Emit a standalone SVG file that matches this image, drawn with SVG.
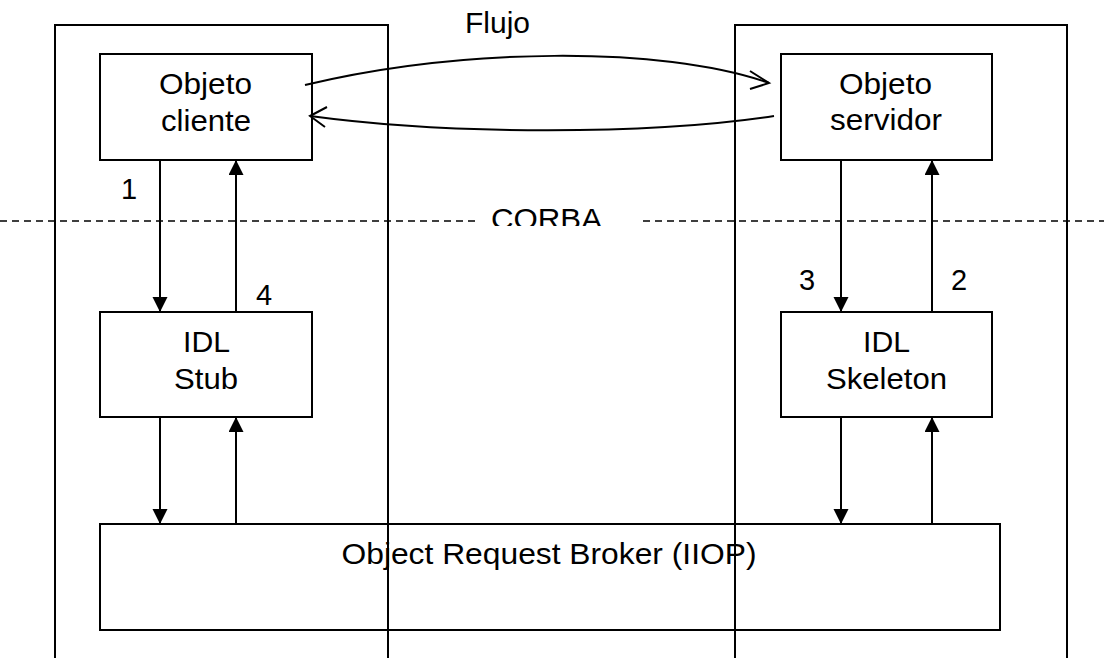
<svg xmlns="http://www.w3.org/2000/svg" width="1104" height="658" viewBox="0 0 1104 658">
  <style>
    .box { fill: none; stroke: #000; stroke-width: 2; }
    .col { fill: none; stroke: #000; stroke-width: 2; }
    .lbl { font-family: "Liberation Sans", Arial, sans-serif; font-size: 29px; fill: #000; }
    .flow { fill: none; stroke: #000; stroke-width: 2; }
    .call { fill: none; stroke: #000; stroke-width: 2; marker-end: url(#tri); }
    .sep { fill: none; stroke: #000; stroke-width: 1.6; stroke-dasharray: 7 5; }
  </style>
  <defs>
    <marker id="tri" markerUnits="userSpaceOnUse" markerWidth="16" markerHeight="16" refX="15" refY="7.5" orient="auto">
      <path d="M0,0 L15,7.5 L0,15 Z" fill="#000"/>
    </marker>
    <clipPath id="corbaClip">
      <rect x="480" y="190" width="160" height="36"/>
    </clipPath>
  </defs>

  <rect width="1104" height="658" fill="#fff"/>

  <!-- ORB layer -->
  <g id="orb">
    <rect class="box" x="100" y="524" width="900" height="106"/>
    <text class="lbl" x="341.5" y="563.5" textLength="415" lengthAdjust="spacingAndGlyphs">Object Request Broker (IIOP)</text>
  </g>

  <!-- client and server process columns -->
  <g id="client-process">
    <path class="col" d="M55,658 V25 H388 V658"/>
  </g>
  <g id="server-process">
    <path class="col" d="M735,658 V25 H1067 V658"/>
  </g>

  <!-- CORBA boundary -->
  <g id="corba-boundary">
    <line class="sep" x1="0" y1="221" x2="478" y2="221"/>
    <line class="sep" x1="643" y1="221" x2="1104" y2="221"/>
    <text class="lbl" x="491" y="229" textLength="111" lengthAdjust="spacingAndGlyphs" clip-path="url(#corbaClip)">CORBA</text>
  </g>

  <g id="objeto-cliente">
    <rect class="box" x="100" y="54" width="212" height="106"/>
    <text class="lbl" x="159" y="94" textLength="93" lengthAdjust="spacingAndGlyphs">Objeto</text>
    <text class="lbl" x="161" y="131" textLength="90" lengthAdjust="spacingAndGlyphs">cliente</text>
  </g>

  <g id="objeto-servidor">
    <rect class="box" x="781" y="54" width="211" height="106"/>
    <text class="lbl" x="839" y="94" textLength="93" lengthAdjust="spacingAndGlyphs">Objeto</text>
    <text class="lbl" x="830" y="130" textLength="112" lengthAdjust="spacingAndGlyphs">servidor</text>
  </g>

  <g id="idl-stub">
    <rect class="box" x="100" y="312" width="212" height="105"/>
    <text class="lbl" x="183" y="352" textLength="47" lengthAdjust="spacingAndGlyphs">IDL</text>
    <text class="lbl" x="174" y="389" textLength="64" lengthAdjust="spacingAndGlyphs">Stub</text>
  </g>

  <g id="idl-skeleton">
    <rect class="box" x="781" y="312" width="211" height="105"/>
    <text class="lbl" x="863" y="352" textLength="47" lengthAdjust="spacingAndGlyphs">IDL</text>
    <text class="lbl" x="826" y="389" textLength="121" lengthAdjust="spacingAndGlyphs">Skeleton</text>
  </g>

  <!-- connectors -->
  <g id="connectors">
    <!-- request/response flow between objects -->
    <path class="flow" d="M305,85 C460,48 660,45 769,83"/>
    <polyline class="flow" points="750,71 769,83 750,89"/>
    <path class="flow" d="M774,116 C650,135 450,135 310,116"/>
    <polyline class="flow" points="327,107 310,116 325,127"/>

    <!-- client side -->
    <line class="call" x1="160" y1="160" x2="160" y2="312"/>
    <line class="call" x1="236" y1="312" x2="236" y2="160"/>
    <line class="call" x1="160" y1="417" x2="160" y2="524"/>
    <line class="call" x1="236" y1="524" x2="236" y2="417"/>

    <!-- server side -->
    <line class="call" x1="841" y1="160" x2="841" y2="312"/>
    <line class="call" x1="932" y1="312" x2="932" y2="160"/>
    <line class="call" x1="841" y1="417" x2="841" y2="524"/>
    <line class="call" x1="932" y1="524" x2="932" y2="417"/>
  </g>

  <!-- labels -->
  <g id="labels">
    <text class="lbl" x="465" y="33" textLength="65" lengthAdjust="spacingAndGlyphs">Flujo</text>
    <text class="lbl" x="121" y="199">1</text>
    <text class="lbl" x="256" y="305">4</text>
    <text class="lbl" x="799" y="290">3</text>
    <text class="lbl" x="951" y="290">2</text>
  </g>
</svg>
